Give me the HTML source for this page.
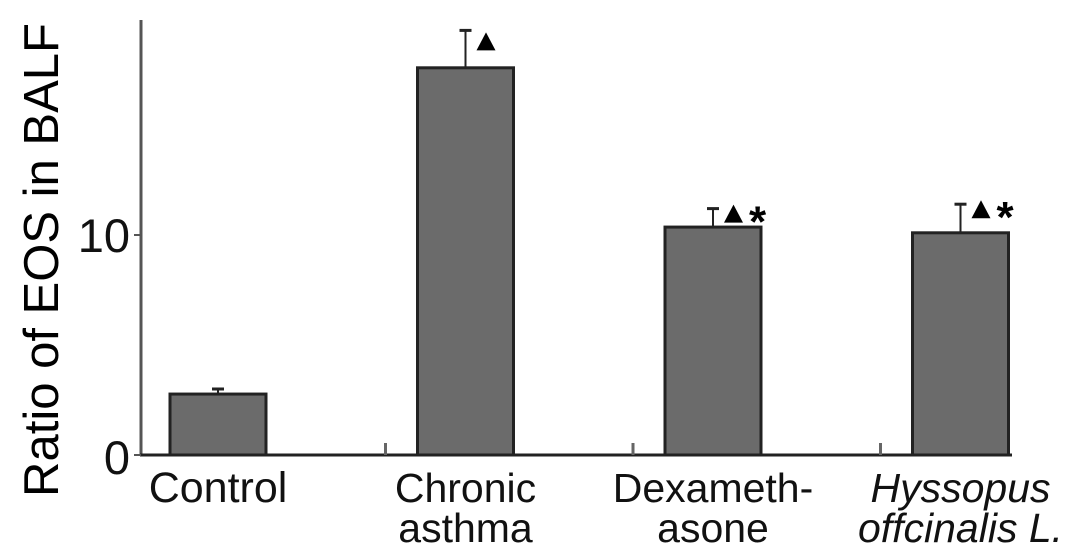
<!DOCTYPE html>
<html><head><meta charset="utf-8"><style>
body{margin:0;background:#fff;}
svg{display:block;font-family:"Liberation Sans",Arial,sans-serif;}
</style></head><body>
<svg id="chart" width="1087" height="555" viewBox="0 0 1087 555">
<text x="0" y="0" transform="translate(58,260) rotate(-90)" text-anchor="middle" font-size="49" fill="#000">Ratio of EOS in BALF</text>
<g id="plot"></g>
</svg>
<script>
const categories=["Control","Chronic asthma","Dexameth-asone","Hyssopus offcinalis L."];
const values=[2.77,17.6,10.36,10.1];
const errors=[0.23,1.7,0.84,1.3];
const triangles=[false,true,true,true];
const stars=[false,false,true,true];
const yTicks=[0,10];
const labelLines=[["Control"],["Chronic","asthma"],["Dexameth-","asone"],["Hyssopus","offcinalis L."]];
const ns="http://www.w3.org/2000/svg";
const g=document.getElementById('plot');
const y0=455,yScale=22;
function y(v){return y0-v*yScale;}
function xc(i){return 218+i*247.5;}
function mk(t,a){const e=document.createElementNS(ns,t);for(const k in a)e.setAttribute(k,a[k]);g.appendChild(e);return e;}
let ax=mk('line',{x1:141,y1:20,x2:141,y2:455,stroke:'#555','stroke-width':3});


let bl=mk('line',{x1:140,y1:455,x2:1012,y2:455,stroke:'#222','stroke-width':3});


yTicks.forEach(t=>{
 const tk=mk('line',{x1:134,y1:y(t),x2:141,y2:y(t),stroke:'#555','stroke-width':2});
 
 
 const tl=mk('text',{x:130,y:y(t)+(t===0?19:17),'text-anchor':'end','font-size':47,fill:'#111'});
 tl.textContent=t;
 
 
});
[1,2,3].forEach(i=>{
 const m=mk('line',{x1:xc(i)-80,y1:443,x2:xc(i)-80,y2:455,stroke:'#666','stroke-width':3});
 
 
});
values.forEach((v,i)=>{
 const cx=xc(i);
 const ey=y(v+errors[i]);
 const el=mk('line',{x1:cx,y1:y(v),x2:cx,y2:ey,stroke:'#222','stroke-width':2});
 
 
 const cap=mk('line',{x1:cx-6,y1:ey,x2:cx+6,y2:ey,stroke:'#222','stroke-width':3});
 
 
 const r=mk('rect',{x:cx-48,y:y(v),width:96,height:y0-y(v),fill:'#6b6b6b',stroke:'#222','stroke-width':3});
 
 
 const off=stars[i]?-4:2;
 if(triangles[i]){
  const tx=cx+11,ty=ey+off;
  const tri=mk('polygon',{points:`${tx},${ty+18} ${tx+19},${ty+18} ${tx+9.5},${ty}`,fill:'#000'});
  
  
 }
 if(stars[i]){
  const s=mk('text',{x:cx+36,y:ey+28,'font-size':44,'font-weight':'bold',fill:'#000'});
  s.textContent='*';
  
  
 }
 labelLines[i].forEach((ln,j)=>{
  const t=mk('text',{x:cx,y:502+j*40,'text-anchor':'middle','font-size':i===0?43:41,fill:'#111'});
  if(i===3)t.setAttribute('font-style','italic');
  t.textContent=ln;
  
  
 });
});
</script>
</body></html>
